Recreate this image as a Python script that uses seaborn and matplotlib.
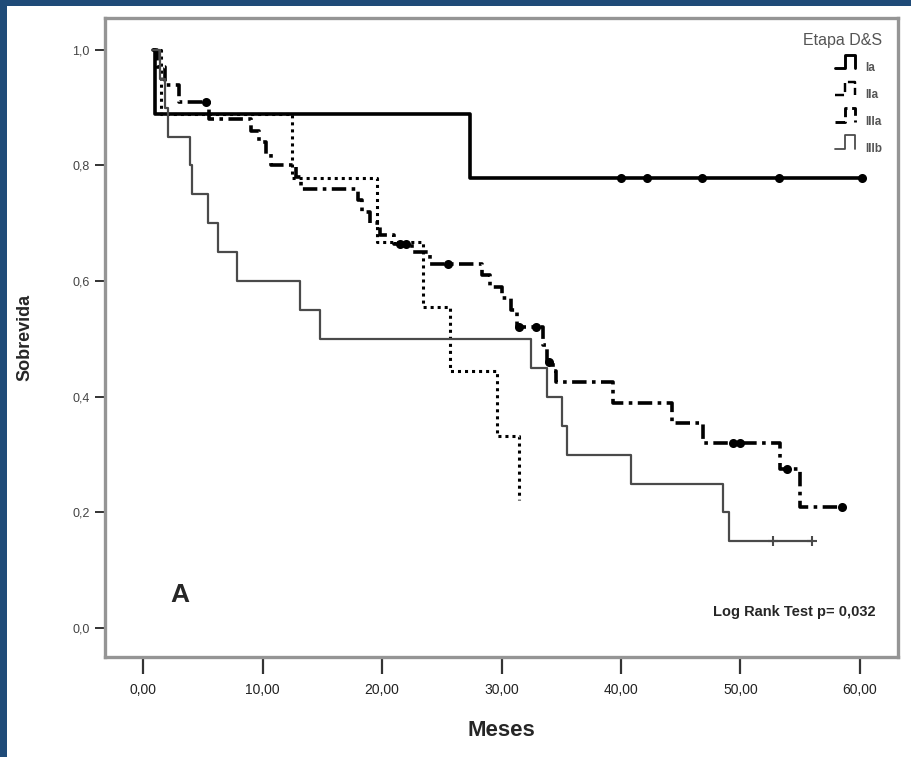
import matplotlib
matplotlib.use("Agg")
import matplotlib.pyplot as plt
import seaborn as sns
import pandas as pd
from matplotlib.lines import Line2D
from matplotlib.patches import Rectangle
from matplotlib.legend_handler import HandlerBase

sns.set_style("white")
plt.rcParams["font.family"] = ["Liberation Sans Narrow", "Liberation Sans", "DejaVu Sans"]

# Kaplan-Meier steps (time in months, survival after the step)
ia_t = [0.8, 1.0, 27.4, 60.2]
ia_s = [1.0, 0.889, 0.778, 0.778]
ia_cens_t = [40.0, 42.2, 46.8, 53.2, 60.2]
ia_cens_s = [0.778, 0.778, 0.778, 0.778, 0.778]

iia_t = [0.8, 1.5, 12.5, 19.6, 23.4, 25.7, 29.6, 31.5]
iia_s = [1.0, 0.889, 0.778, 0.667, 0.556, 0.444, 0.333, 0.222]

iiia_t = [0.8, 1.2, 1.8, 3.0, 5.5, 9.0, 9.7, 10.3, 10.7, 12.8, 13.2, 18.0, 18.3,
          19.0, 19.8, 21.0, 22.5, 24.0, 28.4, 29.0, 30.0, 30.8, 31.3, 33.5, 33.8,
          34.3, 34.6, 39.3, 44.3, 46.9, 53.3, 55.0, 58.5]
iiia_s = [1.0, 0.97, 0.94, 0.91, 0.88, 0.86, 0.84, 0.82, 0.80, 0.78, 0.76, 0.74, 0.72,
          0.70, 0.68, 0.665, 0.65, 0.63, 0.61, 0.59, 0.57, 0.55, 0.52, 0.49, 0.46,
          0.445, 0.425, 0.39, 0.355, 0.32, 0.275, 0.21, 0.21]
iiia_cens_t = [5.3, 21.5, 22.0, 25.5, 31.5, 32.9, 34.0, 49.4, 50.0, 53.9, 58.5]
iiia_cens_s = [0.91, 0.665, 0.665, 0.63, 0.52, 0.52, 0.46, 0.32, 0.32, 0.275, 0.21]

iiib_t = [0.8, 1.4, 1.8, 2.1, 3.9, 4.1, 5.4, 6.3, 7.9, 13.1, 14.8, 32.5, 33.8,
          35.1, 35.5, 40.8, 48.5, 49.0, 56.0]
iiib_s = [1.0, 0.95, 0.90, 0.85, 0.80, 0.75, 0.70, 0.65, 0.60, 0.55, 0.50, 0.45, 0.40,
          0.35, 0.30, 0.25, 0.20, 0.15, 0.15]
iiib_cens_t = [52.7, 56.0]
iiib_cens_s = [0.15, 0.15]

x_ticks = [0, 10, 20, 30, 40, 50, 60]
x_labels = ["0,00", "10,00", "20,00", "30,00", "40,00", "50,00", "60,00"]
y_ticks = [0.0, 0.2, 0.4, 0.6, 0.8, 1.0]
y_labels = ["0,0", "0,2", "0,4", "0,6", "0,8", "1,0"]

groups = [
    ("Ia", ia_t, ia_s, ia_cens_t, ia_cens_s, "black", "-", 2.6, "o", 5),
    ("IIa", iia_t, iia_s, [], [], "black", (0, (1, 1.3)), 2.2, "o", 5),
    ("IIIa", iiia_t, iiia_s, iiia_cens_t, iiia_cens_s, "black", (0, (4, 1.5, 1, 1.5)), 2.6, "o", 5),
    ("IIIb", iiib_t, iiib_s, iiib_cens_t, iiib_cens_s, "#4a4a4a", "-", 1.6, "+", 7),
]


class StepHandler(HandlerBase):
    # little "_|‾|" step glyph like the SPSS legend
    def create_artists(self, legend, orig, xd, yd, w, h, fontsize, trans):
        xs = [xd, xd + 0.4 * w, xd + 0.4 * w, xd + 0.85 * w, xd + 0.85 * w]
        ys = [yd, yd, yd + h, yd + h, yd]
        ln = Line2D(xs, ys, color=orig.get_color(), linestyle=orig.get_linestyle(),
                    linewidth=orig.get_linewidth() * 0.8, transform=trans)
        return [ln]


fig = plt.figure(figsize=(9.11, 7.57), dpi=100, facecolor="#1f4b78")
fig.patches.append(Rectangle((7 / 911, 0), 1, 1 - 6 / 757, transform=fig.transFigure,
                             facecolor="white", edgecolor="none", zorder=-10))
ax = fig.add_axes([105 / 911, 1 - 657 / 757, 793 / 911, 639 / 757])
ax.set_facecolor("white")

for name, t, s, ct, cs, col, ls, lw, mk, ms in groups:
    df = pd.DataFrame({"Meses": t, "Sobrevida": s})
    sns.lineplot(data=df, x="Meses", y="Sobrevida", estimator=None, sort=False,
                 drawstyle="steps-post", color=col, linestyle=ls, linewidth=lw, ax=ax)
    if ct:
        ax.plot(ct, cs, linestyle="none", marker=mk, color=col, markersize=ms,
                markeredgewidth=1.5)

ax.set_xlim(-3.18, 63.18)
ax.set_ylim(-0.05, 1.055)
ax.set_xticks(x_ticks)
ax.set_xticklabels(x_labels)
ax.set_yticks(y_ticks)
ax.set_yticklabels(y_labels)
ax.tick_params(axis="x", direction="out", length=12, width=1.6, color="#333333",
               labelsize=10, labelcolor="#222222", pad=7, bottom=True)
ax.tick_params(axis="y", direction="out", length=7, width=1.4, color="#333333",
               labelsize=9, labelcolor="#444444", pad=4, left=True)
for sp in ax.spines.values():
    sp.set_color("#959595")
    sp.set_linewidth(2.4)

ax.set_xlabel("Meses", fontsize=16, fontweight="bold", labelpad=16)
ax.set_ylabel("Sobrevida", fontsize=13, fontweight="bold", labelpad=28)

ax.text(3.1, 0.057, "A", fontsize=19, fontweight="bold", ha="center", va="center")
ax.text(61.3, 0.028, "Log Rank Test p= 0,032", fontsize=10.5, fontweight="bold",
        ha="right", va="center")

handles = [Line2D([0], [0], color=g[5], linestyle=g[6], linewidth=g[7]) for g in groups]
leg = ax.legend(handles, [g[0] for g in groups], title="Etapa D&S", loc="upper right",
                bbox_to_anchor=(0.99, 0.99), frameon=False, fontsize=8.5,
                title_fontsize=11.5, handlelength=2.0, handleheight=1.4,
                handletextpad=0.5, labelspacing=1.1, borderpad=0.2,
                handler_map={Line2D: StepHandler()})
leg._legend_box.align = "right"
leg.get_title().set_color("#555555")
for txt in leg.get_texts():
    txt.set_color("#555555")
    txt.set_fontweight("bold")

fig.savefig("out.png", dpi=100, facecolor=fig.get_facecolor())
